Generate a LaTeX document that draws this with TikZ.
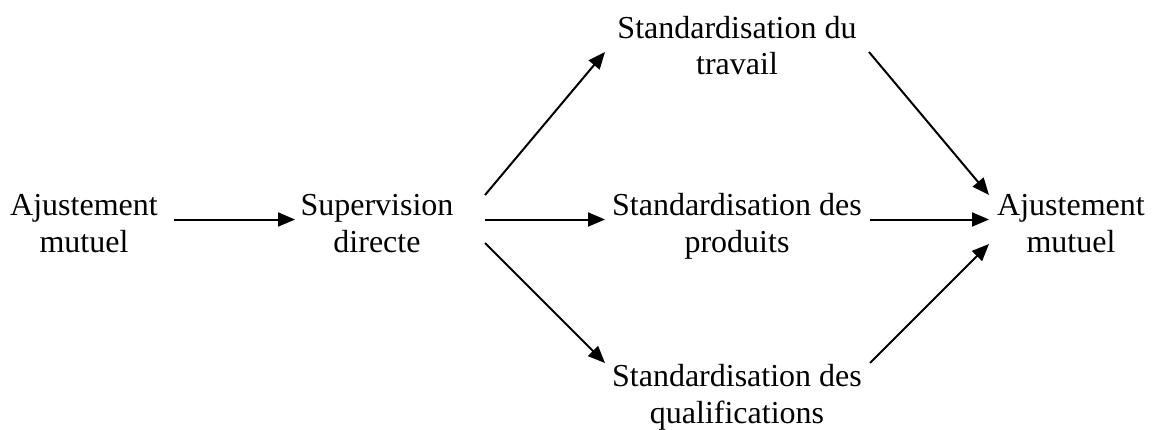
\documentclass[tikz,border=0pt]{standalone}
\usepackage{fontspec}
\setmainfont{Liberation Serif}
\usetikzlibrary{arrows.meta}
\begin{document}
\begin{tikzpicture}[x=1pt,y=-1pt,
  lbl/.style={inner sep=0pt,align=center,font=\fontsize{32}{36.5}\selectfont},
  arr/.style={line width=2pt,-{Triangle[length=17pt,width=14pt]}}]
\useasboundingbox (0,0) rectangle (1152,429);
% nodes (center y = first baseline + 0.3*baselineskip)
\node[lbl] (aj1) at (84,226.5) {\strut Ajustement\\\strut mutuel};
\node[lbl] (sup) at (377,226.5) {\strut Supervision\\\strut directe};
\node[lbl] (st1) at (737,49.3) {\strut Standardisation du\\\strut travail};
\node[lbl] (st2) at (737,226.5) {\strut Standardisation des\\\strut produits};
\node[lbl] (st3) at (737,397.7) {\strut Standardisation des\\\strut qualifications};
\node[lbl] (aj2) at (1071,226.5) {\strut Ajustement\\\strut mutuel};
% connector end points
\coordinate (aj1o) at (174,219.5);
\coordinate (supi) at (295,219.5);
\coordinate (supo1) at (485,195);
\coordinate (supo2) at (485,219.5);
\coordinate (supo3) at (485,243);
\coordinate (st1i) at (605,52);
\coordinate (st2i) at (605,219.5);
\coordinate (st3i) at (605,363);
\coordinate (st1o) at (869,52);
\coordinate (st2o) at (870,219.5);
\coordinate (st3o) at (870,363);
\coordinate (aj2i1) at (989,195);
\coordinate (aj2i2) at (989,219.5);
\coordinate (aj2i3) at (989,244);
% connectors
\draw[arr] (aj1o) -- (supi);
\draw[arr] (supo1) -- (st1i);
\draw[arr] (supo2) -- (st2i);
\draw[arr] (supo3) -- (st3i);
\draw[arr] (st1o) -- (aj2i1);
\draw[arr] (st2o) -- (aj2i2);
\draw[arr] (st3o) -- (aj2i3);
\end{tikzpicture}
\end{document}
